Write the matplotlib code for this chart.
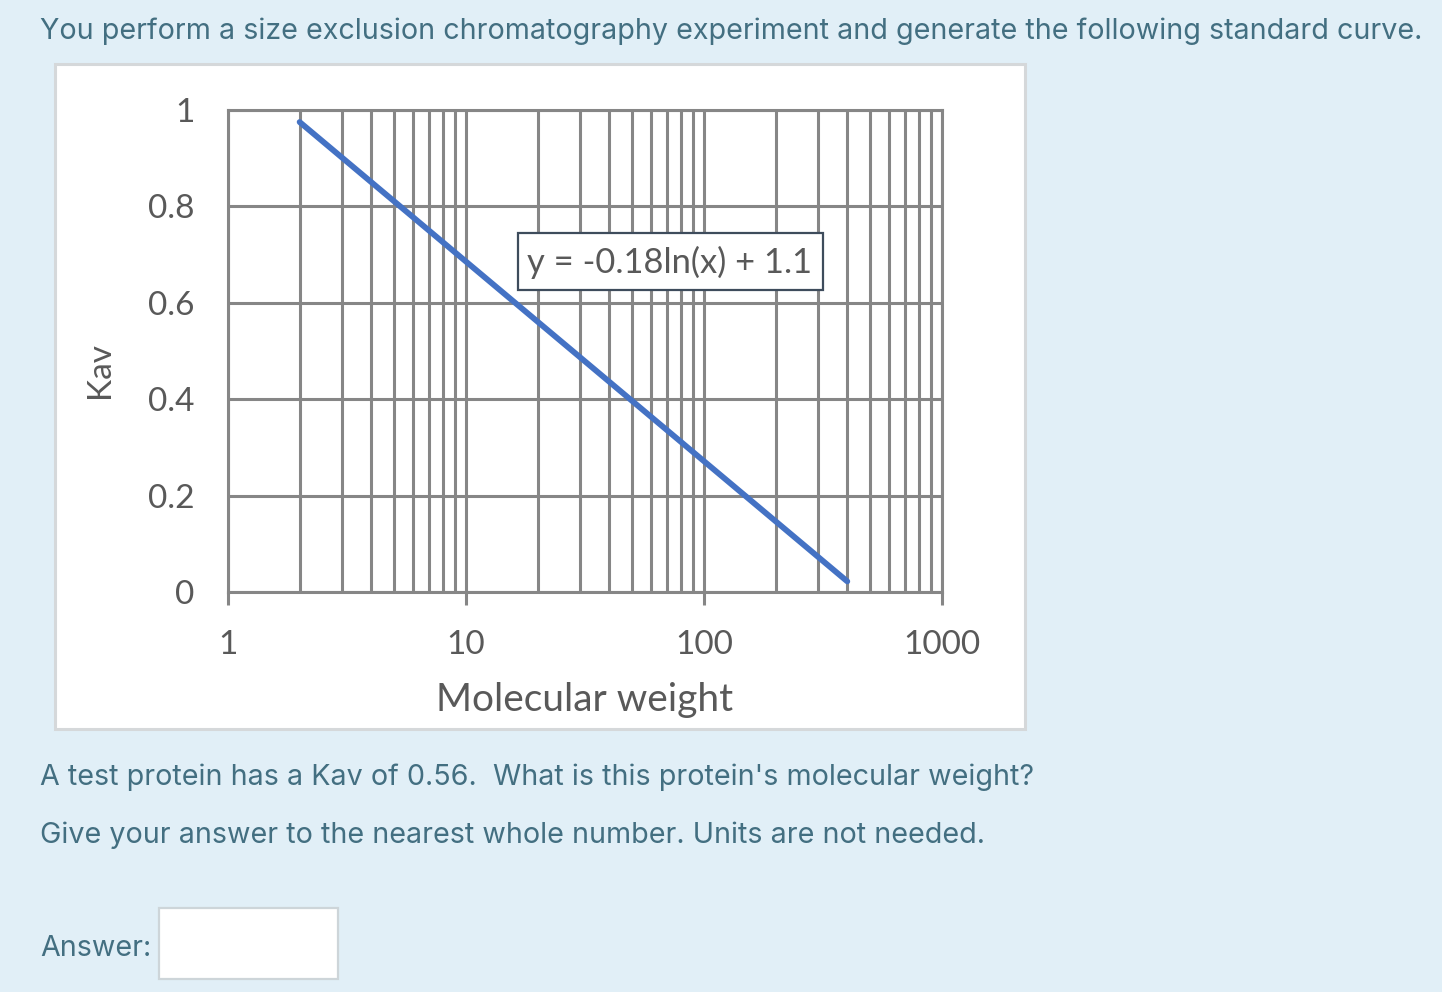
import matplotlib
matplotlib.use("Agg")
import matplotlib.pyplot as plt
from matplotlib.patches import Rectangle
from matplotlib.ticker import LogLocator, NullFormatter, FixedLocator, FixedFormatter

# ---- data ----
mw = [2, 400]
kav = [0.975, 0.022]
x_ticks = [1, 10, 100, 1000]
x_tick_labels = ["1", "10", "100", "1000"]
y_ticks = [0, 0.2, 0.4, 0.6, 0.8, 1.0]
y_tick_labels = ["0", "0.2", "0.4", "0.6", "0.8", "1"]
equation = "y = -0.18ln(x) + 1.1"
title = "You perform a size exclusion chromatography experiment and generate the following standard curve."
q1 = "A test protein has a Kav of 0.56.  What is this protein's molecular weight?"
q2 = "Give your answer to the nearest whole number. Units are not needed."

W, H = 1442, 992
BG = "#e1eff7"
TXT = "#436f81"
GRID = "#868686"
LBL = "#595959"

fig = plt.figure(figsize=(W / 100, H / 100), dpi=100, facecolor=BG)

def fx(px):
    return px / W

def fy(py):
    return 1 - py / H

# background layer for boxes
bg = fig.add_axes([0, 0, 1, 1], zorder=0)
bg.set_xlim(0, W)
bg.set_ylim(H, 0)
bg.axis("off")
bg.add_patch(Rectangle((55, 64), 1025 - 55, 729 - 64, facecolor="white",
                       edgecolor="#d5d8da", linewidth=2.2))
bg.add_patch(Rectangle((159, 908), 338 - 159, 979 - 908, facecolor="white",
                       edgecolor="#cdd5d9", linewidth=1.6))

ax = fig.add_axes([fx(228), fy(592), fx(942) - fx(228), fy(110) - fy(592)], zorder=2)
ax.set_facecolor("white")
ax.set_xscale("log")
ax.set_xlim(1, 1000)
ax.set_ylim(0, 1)

ax.xaxis.set_major_locator(FixedLocator(x_ticks))
ax.xaxis.set_major_formatter(FixedFormatter(x_tick_labels))
ax.xaxis.set_minor_locator(LogLocator(base=10, subs=range(2, 10)))
ax.xaxis.set_minor_formatter(NullFormatter())
ax.yaxis.set_major_locator(FixedLocator(y_ticks))
ax.yaxis.set_major_formatter(FixedFormatter(y_tick_labels))

ax.grid(True, which="both", axis="x", color=GRID, linewidth=2.2)
ax.grid(True, which="major", axis="y", color=GRID, linewidth=2.2)
ax.set_axisbelow(True)

for s in ax.spines.values():
    s.set_color(GRID)
    s.set_linewidth(2.2)

ax.tick_params(axis="x", which="major", direction="out", length=9, width=2.2,
               color=GRID, labelsize=24, labelcolor=LBL, pad=18)
ax.tick_params(axis="x", which="minor", length=0)
ax.tick_params(axis="y", which="major", length=0, labelsize=24, labelcolor=LBL, pad=24)
for lab in ax.get_xticklabels() + ax.get_yticklabels():
    lab.set_fontfamily("Lato")

ax.plot(mw, kav, color="#4472c4", linewidth=4.2, solid_capstyle="round", zorder=3)

ax.set_xlabel("Molecular weight", fontsize=28, color=LBL, family="Lato", labelpad=16)

top = fig.add_axes([0, 0, 1, 1], zorder=3)
top.set_xlim(0, W)
top.set_ylim(H, 0)
top.axis("off")
top.patch.set_alpha(0)

top.text(100, 370, "Kav", rotation=90, ha="center", va="center",
         fontsize=24, color=LBL, family="Lato")

top.add_patch(Rectangle((518, 233), 823 - 518, 290 - 233, facecolor="white",
                        edgecolor="#3e4c5c", linewidth=1.6))
top.text(670, 262, equation, ha="center", va="center", fontsize=24.8,
         color=LBL, family="Lato")

fs = 20.65
top.text(40, 31, title, ha="left", va="center", fontsize=fs, color=TXT, family="Inter")
top.text(40, 777, q1, ha="left", va="center", fontsize=fs, color=TXT, family="Inter")
top.text(40, 835, q2, ha="left", va="center", fontsize=fs, color=TXT, family="Inter")
top.text(40, 948, "Answer:", ha="left", va="center", fontsize=fs, color=TXT, family="Inter")

fig.savefig("out.png", dpi=100, facecolor=BG)
